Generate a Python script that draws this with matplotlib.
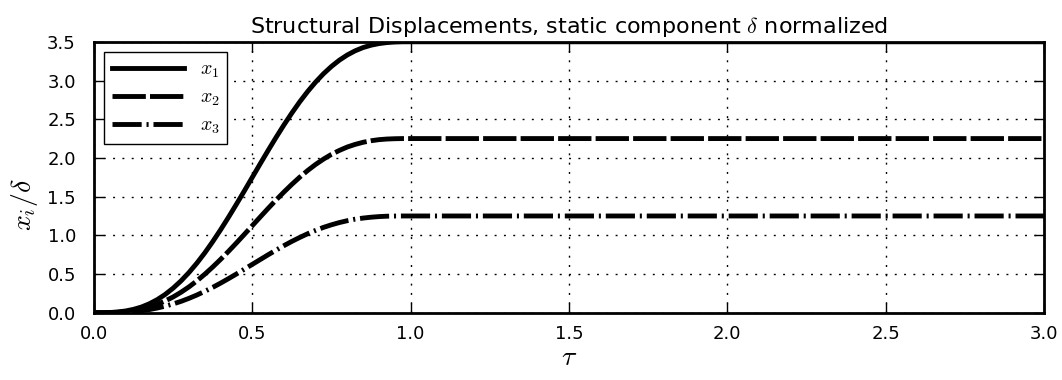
import matplotlib
matplotlib.use("Agg")
import matplotlib.pyplot as plt

# Values
tau = [0.000, 0.025, 0.050, 0.075, 0.100, 0.125, 0.150, 0.175, 0.200, 0.225,
       0.250, 0.275, 0.300, 0.325, 0.350, 0.375, 0.400, 0.425, 0.450, 0.475,
       0.500, 0.525, 0.550, 0.575, 0.600, 0.625, 0.650, 0.675, 0.700, 0.725,
       0.750, 0.775, 0.800, 0.825, 0.850, 0.875, 0.900, 0.925, 0.950, 0.975,
       1.000, 3.000]
x1 = [0.000, 0.000, 0.003, 0.010, 0.023, 0.044, 0.074, 0.116, 0.170, 0.237,
      0.318, 0.412, 0.520, 0.641, 0.774, 0.919, 1.073, 1.235, 1.403, 1.575,
      1.750, 1.925, 2.097, 2.265, 2.427, 2.581, 2.726, 2.859, 2.980, 3.088,
      3.182, 3.263, 3.330, 3.384, 3.426, 3.456, 3.477, 3.490, 3.497, 3.500,
      3.500, 3.500]
x2 = [0.000, 0.000, 0.002, 0.006, 0.015, 0.028, 0.048, 0.075, 0.109, 0.153,
      0.204, 0.265, 0.334, 0.412, 0.498, 0.591, 0.690, 0.794, 0.902, 1.013,
      1.125, 1.237, 1.348, 1.456, 1.560, 1.659, 1.752, 1.838, 1.916, 1.985,
      2.046, 2.097, 2.141, 2.175, 2.202, 2.222, 2.236, 2.244, 2.248, 2.250,
      2.250, 2.250]
x3 = [0.000, 0.000, 0.001, 0.003, 0.008, 0.016, 0.027, 0.041, 0.061, 0.085,
      0.114, 0.147, 0.186, 0.229, 0.277, 0.328, 0.383, 0.441, 0.501, 0.563,
      0.625, 0.687, 0.749, 0.809, 0.867, 0.922, 0.973, 1.021, 1.064, 1.103,
      1.136, 1.165, 1.189, 1.209, 1.223, 1.234, 1.242, 1.247, 1.249, 1.250,
      1.250, 1.250]
labels = [r"$x_1$", r"$x_2$", r"$x_3$"]
xticks = [0.0, 0.5, 1.0, 1.5, 2.0, 2.5, 3.0]
yticks = [0.0, 0.5, 1.0, 1.5, 2.0, 2.5, 3.0, 3.5]

plt.rcParams["mathtext.fontset"] = "cm"
plt.rcParams["font.family"] = "DejaVu Sans"
plt.rcParams["lines.scale_dashes"] = False

fig = plt.figure(figsize=(10.62, 3.80), dpi=100)
ax = fig.add_axes([0.0885, 0.177, 0.8945, 0.713])

ax.plot(tau, x1, color="black", lw=3.5, ls="-", label=labels[0])
ax.plot(tau, x2, color="black", lw=3.5, ls=(0, (24, 3)), label=labels[1])
ax.plot(tau, x3, color="black", lw=3.5, ls=(0, (21, 3.5, 1.5, 3.5)), label=labels[2])

ax.set_xlim(0, 3)
ax.set_ylim(0, 3.5)
ax.set_xticks(xticks)
ax.set_yticks(yticks)
ax.set_xticklabels([f"{v:.1f}" for v in xticks])
ax.set_yticklabels([f"{v:.1f}" for v in yticks])
ax.tick_params(direction="in", length=7, width=1, top=True, right=True,
               labelsize=13)
ax.tick_params(axis="x", pad=9)
ax.tick_params(axis="y", pad=13)
for s in ax.spines.values():
    s.set_linewidth(2)

ax.grid(True, color="black", lw=1, ls=(0, (1.4, 5.3)))

ax.set_title(r"Structural Displacements, static component $\delta$ normalized",
             fontsize=16, pad=6)
ax.set_xlabel(r"$\tau$", fontsize=20, labelpad=0)
ax.set_ylabel(r"$x_i/\delta$", fontsize=20)
ax.yaxis.set_label_coords(-0.057, 0.40)

leg = ax.legend(loc="upper left", fontsize=14.4, handlelength=3.6,
                fancybox=False, framealpha=1, edgecolor="black",
                borderpad=0.39, labelspacing=0.38, borderaxespad=0.5)
leg.get_frame().set_linewidth(1)

fig.savefig("out.png", dpi=100, facecolor="white")
